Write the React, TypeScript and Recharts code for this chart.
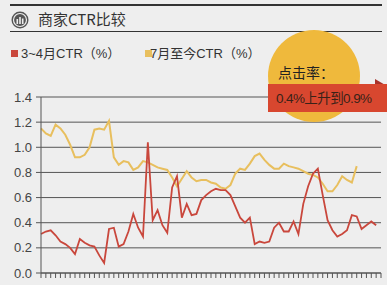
import React from 'react';
import { LineChart, Line, XAxis, YAxis, CartesianGrid } from 'recharts';

const title = '商家CTR比较';
const seriesNames = ['3~4月CTR（%）', '7月至今CTR（%）'];
const calloutTitle = '点击率：';
const calloutText = '0.4%上升到0.9%';
const yTicks = [0, 0.2, 0.4, 0.6, 0.8, 1.0, 1.2, 1.4];

const marchApril: number[] = [
  0.31, 0.33, 0.34, 0.30, 0.25, 0.23, 0.20, 0.15, 0.27, 0.24,
  0.22, 0.21, 0.14, 0.08, 0.35, 0.36, 0.21, 0.23, 0.33, 0.47,
  0.36, 0.29, 1.04, 0.42, 0.50, 0.38, 0.32, 0.68, 0.77, 0.44,
  0.55, 0.46, 0.47, 0.58, 0.62, 0.65, 0.67, 0.66, 0.66, 0.62,
  0.53, 0.44, 0.40, 0.44, 0.23, 0.25, 0.24, 0.25, 0.36, 0.40,
  0.33, 0.33, 0.41, 0.31, 0.55, 0.69, 0.79, 0.83, 0.62, 0.42,
  0.34, 0.29, 0.31, 0.34, 0.46, 0.45, 0.35, 0.38, 0.41, 0.38,
];

const julyNow: number[] = [
  1.15, 1.11, 1.09, 1.18, 1.15, 1.10, 1.02, 0.92, 0.92, 0.94,
  1.00, 1.14, 1.15, 1.14, 1.21, 0.92, 0.86, 0.89, 0.88, 0.82,
  0.84, 0.89, 0.88, 0.86, 0.84, 0.83, 0.82, 0.76, 0.69, 0.75,
  0.81, 0.76, 0.73, 0.74, 0.74, 0.72, 0.71, 0.68, 0.67, 0.70,
  0.79, 0.83, 0.82, 0.87, 0.93, 0.95, 0.90, 0.86, 0.83, 0.83,
  0.87, 0.85, 0.84, 0.83, 0.81, 0.79, 0.78, 0.76, 0.71, 0.65,
  0.65, 0.70, 0.77, 0.74, 0.72, 0.85,
];

const categoryCount = 71;
const categories = Array.from({ length: categoryCount }, (_, i) => i);

const data = categories.map((i) => ({
  i,
  a: i < marchApril.length ? marchApril[i] : null,
  b: i < julyNow.length ? julyNow[i] : null,
}));

const RED = '#c9473c';
const YELLOW = '#e8bf5e';
const FONT = '"Liberation Sans", Arial, "Noto Sans CJK SC", sans-serif';

export default function App() {
  return (
    <div
      style={{
        position: 'fixed',
        left: 0,
        top: 0,
        width: 387,
        height: 285,
        background: '#eeeeee',
        overflow: 'hidden',
        fontFamily: FONT,
      }}
    >
      {/* top rule */}
      <div style={{ position: 'absolute', left: 10, top: 4, width: 372, height: 1.5, background: '#333' }} />
      {/* title icon */}
      <svg style={{ position: 'absolute', left: 11, top: 11 }} width={18} height={18}>
        <circle cx={9} cy={9} r={8.5} fill="#555" />
        <circle cx={9} cy={9} r={6.5} fill="none" stroke="#eee" strokeWidth={1.2} />
        <rect x={5.5} y={8} width={1.6} height={5} fill="#eee" />
        <rect x={8.2} y={6} width={1.6} height={7} fill="#eee" />
        <rect x={10.9} y={7.5} width={1.6} height={5.5} fill="#eee" />
      </svg>
      <div
        style={{
          position: 'absolute',
          left: 38,
          top: 9,
          fontSize: 15,
          color: '#333',
          fontFamily: '"Noto Sans CJK SC", sans-serif',
          lineHeight: '20px',
          whiteSpace: 'nowrap',
        }}
      >
        {title}
      </div>
      <div style={{ position: 'absolute', left: 10, top: 31, width: 372, height: 1.2, background: '#333' }} />

      {/* legend */}
      <div style={{ position: 'absolute', left: 11, top: 50, width: 7, height: 7, background: RED }} />
      <div
        style={{
          position: 'absolute',
          left: 21,
          top: 45,
          fontSize: 13,
          color: '#333',
          lineHeight: '17px',
          whiteSpace: 'nowrap',
          fontFamily: FONT,
        }}
      >
        {seriesNames[0]}
      </div>
      <div style={{ position: 'absolute', left: 145, top: 50, width: 7, height: 7, background: YELLOW }} />
      <div
        style={{
          position: 'absolute',
          left: 150,
          top: 45,
          fontSize: 13,
          color: '#333',
          lineHeight: '17px',
          whiteSpace: 'nowrap',
          fontFamily: FONT,
        }}
      >
        {seriesNames[1]}
      </div>

      <div style={{ position: 'absolute', left: 0, top: 0 }}>
        <LineChart
          width={387}
          height={285}
          data={data}
          margin={{ top: 97, right: 6, bottom: 7, left: 8 }}
        >
          <CartesianGrid vertical={false} stroke="#555" strokeWidth={1} />
          <XAxis
            dataKey="i"
            interval={0}
            tickSize={5}
            tickFormatter={() => ''}
            height={5}
            stroke="#555"
            tickLine={{ stroke: '#555' }}
            axisLine={{ stroke: '#555' }}
          />
          <YAxis
            domain={[0, 1.4]}
            ticks={yTicks}
            interval={0}
            width={33}
            tickSize={5}
            tickMargin={4}
            tickFormatter={(v: number) => v.toFixed(1)}
            tick={{ fontSize: 13, fill: '#444', fontFamily: FONT }}
            stroke="#555"
          />
          <Line
            type="linear"
            dataKey="b"
            stroke={YELLOW}
            strokeWidth={2}
            dot={false}
            isAnimationActive={false}
          />
          <Line
            type="linear"
            dataKey="a"
            stroke={RED}
            strokeWidth={1.8}
            dot={false}
            isAnimationActive={false}
          />
        </LineChart>
      </div>

      {/* callout */}
      <div
        style={{
          position: 'absolute',
          left: 268,
          top: 30,
          width: 92,
          height: 92,
          borderRadius: '50%',
          background: '#efb93c',
        }}
      />
      <div
        style={{
          position: 'absolute',
          left: 278,
          top: 62,
          fontSize: 14,
          color: '#222',
          lineHeight: '20px',
          fontFamily: '"Noto Sans CJK SC", sans-serif',
          whiteSpace: 'nowrap',
        }}
      >
        {calloutTitle}
      </div>
      <svg style={{ position: 'absolute', left: 0, top: 0 }} width={387} height={285}>
        <polygon points="375,79 387,86 375,86" fill="#a8322a" />
      </svg>
      <div
        style={{
          position: 'absolute',
          left: 268,
          top: 84,
          width: 119,
          height: 28,
          background: '#d8472f',
        }}
      />
      <div
        style={{
          position: 'absolute',
          left: 276,
          top: 89,
          fontSize: 13.5,
          letterSpacing: -0.6,
          color: '#3a2218',
          lineHeight: '20px',
          fontFamily: FONT,
          whiteSpace: 'nowrap',
        }}
      >
        {calloutText}
      </div>
    </div>
  );
}
